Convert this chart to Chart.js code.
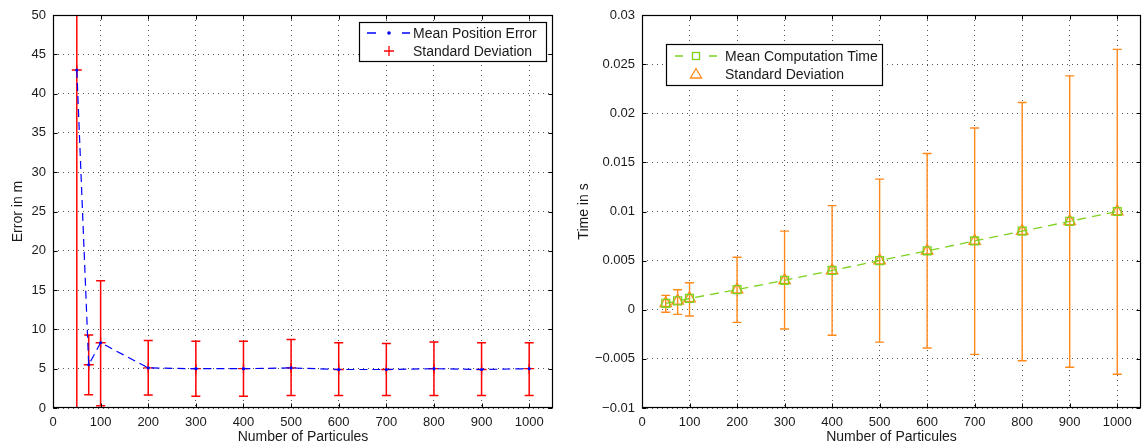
<!DOCTYPE html>
<html>
<head>
<meta charset="utf-8">
<script src="https://cdn.jsdelivr.net/npm/chart.js@4.4.1/dist/chart.umd.min.js"></script>
<style>
  html, body { margin: 0; padding: 0; background: #fff; }
  .panel { position: absolute; top: 0; width: 571px; height: 448px; }
  #leftPanel { left: 0; }
  #rightPanel { left: 571px; }
</style>
</head>
<body>
<div class="panel" id="leftPanel"><canvas id="errorChart" width="571" height="448"></canvas></div>
<div class="panel" id="rightPanel"><canvas id="timeChart" width="571" height="448"></canvas></div>
<script>
// Data ==================================================================
var particles = [50, 75, 100, 200, 300, 400, 500, 600, 700, 800, 900, 1000];

// left plot: position error (m)
var meanError = [43, 5.5, 8.3, 5.1, 5.0, 5.0, 5.1, 4.9, 4.9, 5.0, 4.9, 5.0];
var errorLow = [-4, 1.7, 0.3, 1.65, 1.5, 1.5, 1.6, 1.6, 1.6, 1.6, 1.6, 1.6];
var errorHigh = [90, 9.3, 16.2, 8.6, 8.5, 8.5, 8.7, 8.3, 8.2, 8.4, 8.3, 8.3];

// right plot: computation time (s)
var meanTime = [0.00066, 0.0009, 0.00115, 0.00205, 0.003, 0.004, 0.005, 0.006, 0.007, 0.008, 0.009, 0.01];
var timeLow = [-0.00026, -0.00047, -0.00064, -0.00128, -0.00196, -0.0026, -0.0033, -0.0039, -0.00454, -0.00519, -0.00586, -0.00657];
var timeHigh = [0.00146, 0.00204, 0.00275, 0.00534, 0.008, 0.0106, 0.0133, 0.0159, 0.0185, 0.0211, 0.0238, 0.0265];

// ticks
var xTicks = [0, 100, 200, 300, 400, 500, 600, 700, 800, 900, 1000];
var errorTicks = [0, 5, 10, 15, 20, 25, 30, 35, 40, 45, 50];
var timeTicks = [-0.01, -0.005, 0, 0.005, 0.01, 0.015, 0.02, 0.025, 0.03];
var timeTickLabels = ['\u22120.01', '\u22120.005', '0', '0.005', '0.01', '0.015', '0.02', '0.025', '0.03'];

var errorLegend = ['Mean Position Error', 'Standard Deviation'];
var timeLegend = ['Mean Computation Time', 'Standard Deviation'];

var FONT = '"Liberation Sans", Arial, Helvetica, sans-serif';
var TEXT = '#1a1a1a';
var BLUE = '#0000ff';
var RED = '#ff0000';
var GREEN = '#7ed321';
var ORANGE = '#ff8a1c';

Chart.defaults.font.family = FONT;
Chart.defaults.color = TEXT;

// Helpers ===============================================================

function pts(xs, ys) {
  return xs.map(function(x, i) { return {x: x, y: ys[i]}; });
}

// vertical error bars with caps, drawn through the chart scales
function errorBars(lows, highs, color, width, cap) {
  return {
    id: 'errorBars',
    beforeDatasetsDraw: function(chart) {
      var ctx = chart.ctx, xs = chart.scales.x, ys = chart.scales.y, area = chart.chartArea;
      ctx.save();
      ctx.beginPath();
      ctx.rect(area.left, area.top, area.right - area.left, area.bottom - area.top);
      ctx.clip();
      ctx.strokeStyle = color;
      ctx.lineWidth = width;
      for (var i = 0; i < particles.length; i++) {
        var px = xs.getPixelForValue(particles[i]);
        var lo = ys.getPixelForValue(lows[i]);
        var hi = ys.getPixelForValue(highs[i]);
        ctx.beginPath();
        ctx.moveTo(px, lo); ctx.lineTo(px, hi);
        ctx.moveTo(px - cap, lo); ctx.lineTo(px + cap, lo);
        ctx.moveTo(px - cap, hi); ctx.lineTo(px + cap, hi);
        ctx.stroke();
      }
      ctx.restore();
    }
  };
}

// matlab style box with inward ticks
var framePlugin = {
  id: 'frame',
  afterDraw: function(chart) {
    var ctx = chart.ctx, a = chart.chartArea;
    var L = Math.round(a.left) + 0.5, R = Math.round(a.right) - 0.5;
    var T = Math.round(a.top) + 0.5, B = Math.round(a.bottom) - 0.5;
    ctx.save();
    ctx.strokeStyle = '#000';
    ctx.lineWidth = 1;
    ctx.beginPath();
    chart.scales.x.ticks.forEach(function(t) {
      var p = Math.round(chart.scales.x.getPixelForValue(t.value)) + 0.5;
      ctx.moveTo(p, B); ctx.lineTo(p, B - 4);
      ctx.moveTo(p, T); ctx.lineTo(p, T + 4);
    });
    chart.scales.y.ticks.forEach(function(t) {
      var p = Math.round(chart.scales.y.getPixelForValue(t.value)) + 0.5;
      ctx.moveTo(L, p); ctx.lineTo(L + 4, p);
      ctx.moveTo(R, p); ctx.lineTo(R - 4, p);
    });
    ctx.stroke();
    ctx.lineWidth = 1.2;
    ctx.strokeRect(L, T, R - L, B - T);
    ctx.restore();
  }
};

function legendBox(box, rows) {
  return {
    id: 'legendBox',
    afterDraw: function(chart) {
      var ctx = chart.ctx;
      ctx.save();
      ctx.fillStyle = '#fff';
      ctx.fillRect(box.x, box.y, box.w, box.h);
      ctx.strokeStyle = '#000';
      ctx.lineWidth = 1.2;
      ctx.strokeRect(box.x + 0.5, box.y + 0.5, box.w, box.h);
      ctx.font = '14px ' + FONT;
      ctx.fillStyle = TEXT;
      ctx.textBaseline = 'middle';
      rows.forEach(function(r) {
        r.symbol(ctx, box.x + box.symX, r.y);
        ctx.fillStyle = TEXT;
        ctx.fillText(r.text, box.x + box.textX, r.y + 1);
      });
      ctx.restore();
    }
  };
}

function drawCross(ctx, x, y, c) {
  ctx.strokeStyle = c; ctx.lineWidth = 1.3;
  ctx.beginPath();
  ctx.moveTo(x - 5, y); ctx.lineTo(x + 5, y);
  ctx.moveTo(x, y - 5); ctx.lineTo(x, y + 5);
  ctx.stroke();
}
function drawTriangle(ctx, x, y, c) {
  ctx.strokeStyle = c; ctx.lineWidth = 1.3;
  ctx.beginPath();
  ctx.moveTo(x, y - 5.5); ctx.lineTo(x + 5.5, y + 4); ctx.lineTo(x - 5.5, y + 4);
  ctx.closePath();
  ctx.stroke();
}

function axisBase(ticksArr, labels, min, max, titleText, titlePad, width) {
  return {
    type: 'linear',
    min: min, max: max,
    afterBuildTicks: function(s) { s.ticks = ticksArr.map(function(v) { return {value: v}; }); },
    afterFit: function(s) {
      if (width) { s.width = width; }
      else { s.height = 40; s.paddingLeft = 0; s.paddingRight = 0; }
    },
    ticks: {
      font: {size: 13},
      color: TEXT,
      padding: 7,
      autoSkip: false,
      maxRotation: 0,
      callback: function(v) {
        var i = ticksArr.indexOf(v);
        return labels ? labels[i] : String(v);
      }
    },
    grid: { color: '#555', lineWidth: 1, drawTicks: false },
    border: { display: false, dash: [1, 4] },
    title: { display: true, text: titleText, font: {size: 14}, color: TEXT, padding: titlePad }
  };
}

// Left chart: position error =============================================
new Chart(document.getElementById('errorChart'), {
  type: 'scatter',
  data: {
    datasets: [{
      label: errorLegend[0],
      data: pts(particles, meanError),
      showLine: true,
      borderColor: BLUE,
      borderWidth: 1.2,
      borderDash: [8, 5],
      pointStyle: 'circle',
      pointRadius: 1.6,
      pointBackgroundColor: BLUE,
      pointBorderWidth: 0
    }, {
      label: errorLegend[1],
      data: pts(particles, meanError),
      showLine: false,
      pointStyle: 'cross',
      pointRadius: 5,
      pointBorderColor: RED,
      pointBorderWidth: 1.3
    }]
  },
  options: {
    responsive: false,
    animation: false,
    layout: { autoPadding: false, padding: {left: 0, right: 18, top: 15, bottom: 0} },
    plugins: { legend: {display: false}, tooltip: {enabled: false} },
    scales: {
      x: axisBase(xTicks, null, 0, 1050, 'Number of Particules', {top: 0, bottom: 2}),
      y: axisBase(errorTicks, null, 0, 50, 'Error in m', {top: 10, bottom: 0}, 53)
    }
  },
  plugins: [
    errorBars(errorLow, errorHigh, RED, 1.5, 4.5),
    framePlugin,
    legendBox({x: 359, y: 22, w: 187, h: 39, symX: 30, textX: 54}, [
      {y: 33, text: errorLegend[0], symbol: function(ctx, x, y) {
        ctx.strokeStyle = BLUE; ctx.lineWidth = 1.3;
        ctx.beginPath();
        ctx.moveTo(x - 22, y); ctx.lineTo(x - 13, y);
        ctx.moveTo(x + 13, y); ctx.lineTo(x + 21, y);
        ctx.stroke();
        ctx.fillStyle = BLUE;
        ctx.beginPath(); ctx.arc(x, y, 1.8, 0, Math.PI * 2); ctx.fill();
      }},
      {y: 51, text: errorLegend[1], symbol: function(ctx, x, y) { drawCross(ctx, x, y, RED); }}
    ])
  ]
});

// Right chart: computation time ==========================================
new Chart(document.getElementById('timeChart'), {
  type: 'scatter',
  data: {
    datasets: [{
      label: timeLegend[0],
      data: pts(particles, meanTime),
      showLine: true,
      borderColor: GREEN,
      borderWidth: 1.3,
      borderDash: [9, 6],
      pointStyle: 'rect',
      pointRadius: 5.6,
      pointBackgroundColor: 'rgba(0,0,0,0)',
      pointBorderColor: GREEN,
      pointBorderWidth: 1.3
    }, {
      label: timeLegend[1],
      data: pts(particles, meanTime),
      showLine: false,
      pointStyle: 'triangle',
      pointRadius: 6.5,
      pointBackgroundColor: 'rgba(0,0,0,0)',
      pointBorderColor: ORANGE,
      pointBorderWidth: 1.4
    }]
  },
  options: {
    responsive: false,
    animation: false,
    layout: { autoPadding: false, padding: {left: 0, right: 1, top: 15, bottom: 0} },
    plugins: { legend: {display: false}, tooltip: {enabled: false} },
    scales: {
      x: axisBase(xTicks, null, 0, 1050, 'Number of Particules', {top: 0, bottom: 2}),
      y: axisBase(timeTicks, timeTickLabels, -0.01, 0.03, 'Time in s', {top: 5, bottom: 0}, 71)
    }
  },
  plugins: [
    errorBars(timeLow, timeHigh, ORANGE, 1.4, 4.5),
    framePlugin,
    legendBox({x: 95, y: 44, w: 216, h: 41, symX: 30, textX: 59}, [
      {y: 56, text: timeLegend[0], symbol: function(ctx, x, y) {
        ctx.strokeStyle = GREEN; ctx.lineWidth = 1.3;
        ctx.beginPath();
        ctx.moveTo(x - 21, y); ctx.lineTo(x - 13, y);
        ctx.moveTo(x + 13, y); ctx.lineTo(x + 21, y);
        ctx.stroke();
        ctx.strokeRect(x - 3.5, y - 3.5, 7, 7);
      }},
      {y: 74, text: timeLegend[1], symbol: function(ctx, x, y) { drawTriangle(ctx, x, y, ORANGE); }}
    ])
  ]
});
</script>
</body>
</html>
